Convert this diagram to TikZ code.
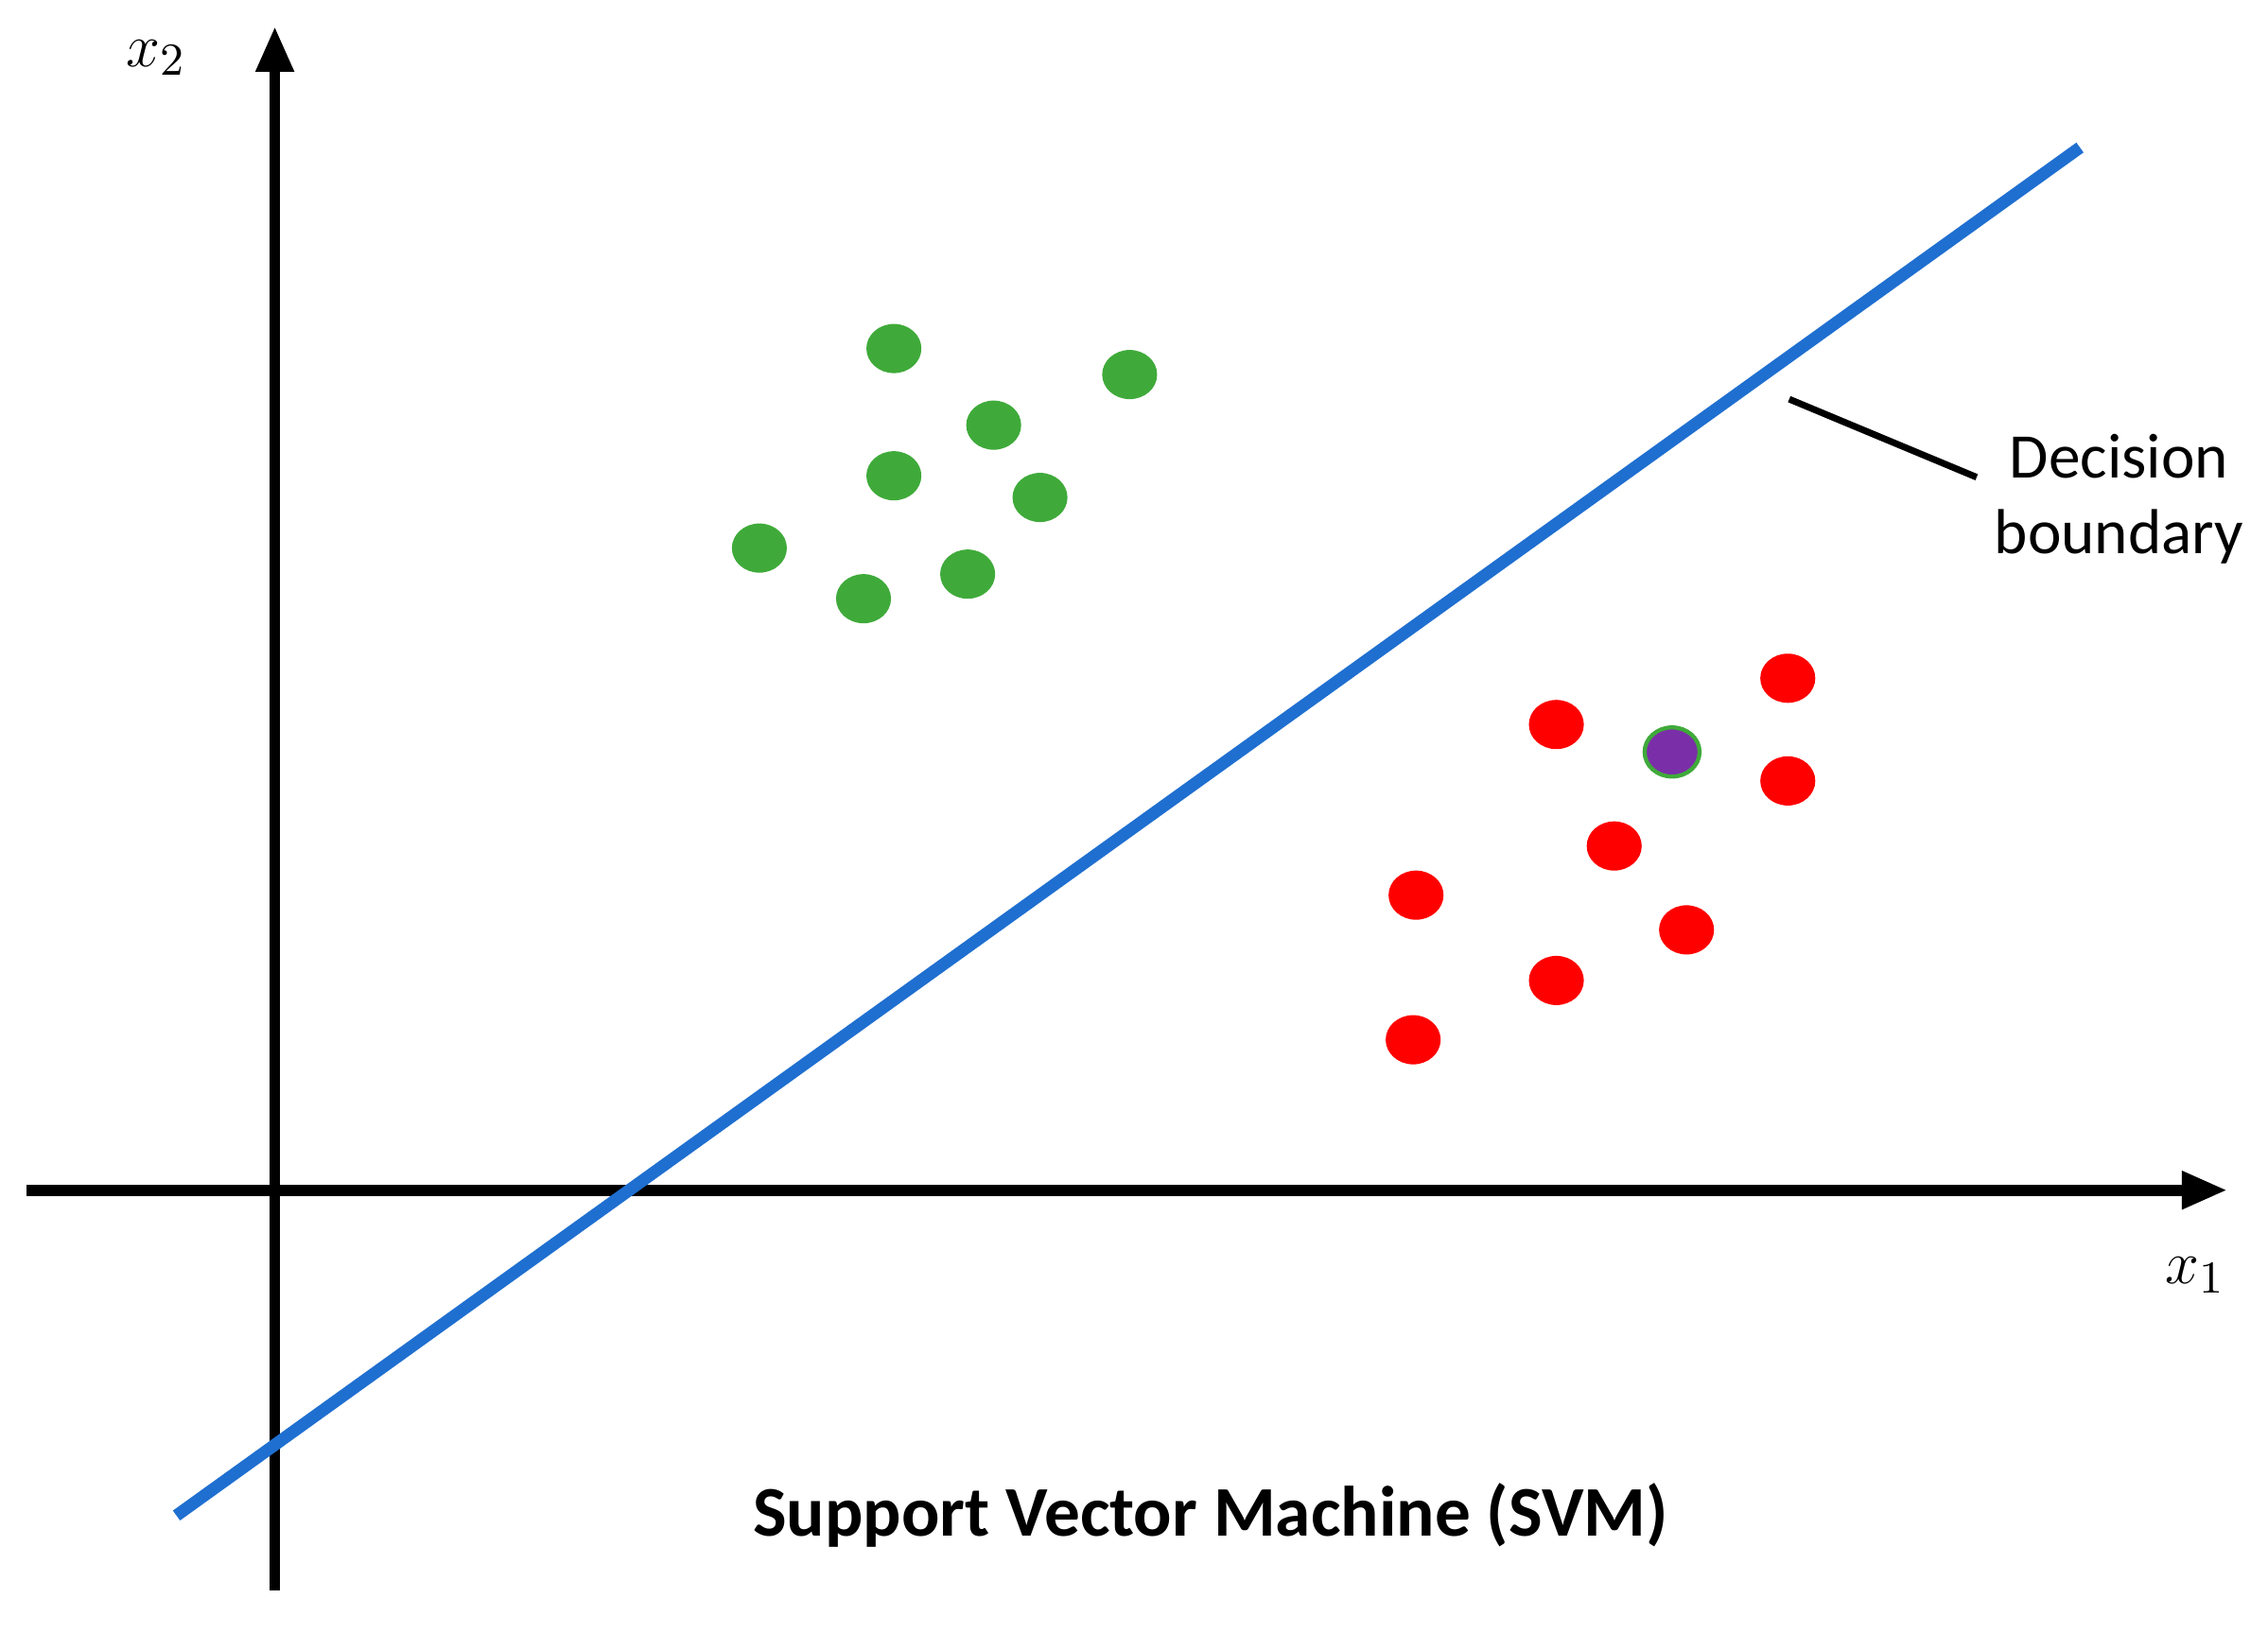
\documentclass[tikz,border=0pt]{standalone}
\usepackage{fontspec}
\setmainfont{Carlito}
\usetikzlibrary{arrows.meta,positioning,shapes.geometric}
\definecolor{dotgreen}{HTML}{3FAA3A}
\definecolor{dotred}{HTML}{FF0000}
\definecolor{dotpurple}{HTML}{7A2FA8}
\definecolor{lineblue}{HTML}{1F6FD0}
\tikzset{
      axis/.style = {-{Triangle[length=9pt,width=7pt]}, line width=2.2pt},
      dot/.style = {ellipse, minimum width=0.38cm, minimum height=0.34cm, inner sep=0pt},
  greendot/.style = {dot, fill=dotgreen},
    reddot/.style = {dot, fill=dotred},
    lbl/.style = {font=\fontsize{12.5}{15}\selectfont, align=center},
}
\begin{document}
\begin{tikzpicture}[x=0.01cm,y=-0.01cm]
  \useasboundingbox (0,0) rectangle (1568,1129);
  % axes
  \coordinate (xs) at (18,823);   \coordinate (xe) at (1540,823);
  \coordinate (ys) at (190,1100); \coordinate (ye) at (190,18);
  \draw[axis] (xs) -- (xe);
  \draw[axis] (ys) -- (ye);
  \node (xtwo) at (108,40) {\fontsize{13}{16}\selectfont$x_2$};
  \node (xone) at (1518,882) {\fontsize{13}{16}\selectfont$x_1$};
  % boundary
  \coordinate (bs) at (122,1048); \coordinate (be) at (1438,102);
  \draw[lineblue, line width=2.4pt] (bs) -- (be);
  % dots
  \foreach \x/\y [count=\i] in {618/241,781/259,687/294,618/329,719/344,525/379,597/414,669/397}
    \node[greendot] (g\i) at (\x,\y) {};
  \foreach \x/\y [count=\i] in {1236/469,1076/501,1236/540,1116/585,979/619,1166/643,1076/678,977/719}
    \node[reddot] (r\i) at (\x,\y) {};
  \node[dot, fill=dotpurple, draw=dotgreen, line width=0.8pt] (p) at (1156,520) {};
  % label
  \node[lbl] (dec) at (1465,345) {Decision\\boundary};
  \coordinate (tip) at (1237,276);
  \draw[line width=1.3pt] (tip) -- (dec.west |- 0,330);
  \node[font=\fontsize{14}{17}\selectfont\bfseries] (title) at (837,1048) {Support Vector Machine (SVM)};
\end{tikzpicture}
\end{document}
